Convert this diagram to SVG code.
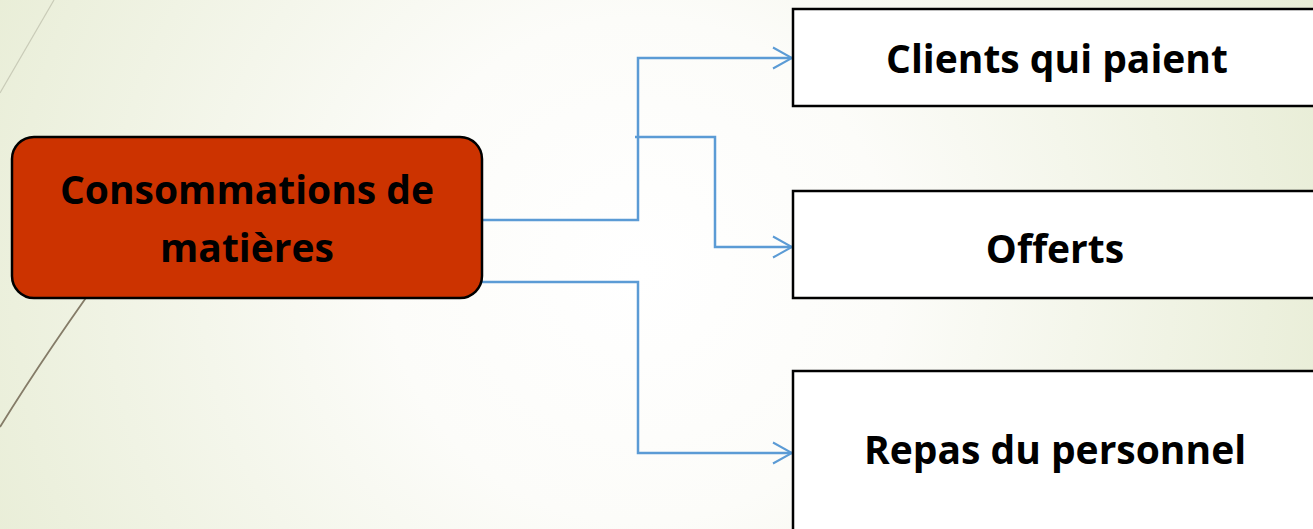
<svg xmlns="http://www.w3.org/2000/svg" width="1313" height="529" viewBox="0 0 1313 529">
<defs>
<radialGradient id="bg" cx="640" cy="270" r="720" gradientUnits="userSpaceOnUse">
<stop offset="0" stop-color="#FFFFFF"/>
<stop offset="0.35" stop-color="#FCFCF9"/>
<stop offset="1" stop-color="#E8EDD6"/>
</radialGradient>
<marker id="arr" markerWidth="22" markerHeight="24" refX="20" refY="12" orient="auto" markerUnits="userSpaceOnUse">
<path d="M1,1.5 L20,12 L1,22.5" fill="none" stroke="#5B9BD5" stroke-width="2"/>
</marker>
<style>
.lbl{font-family:"Open Sans","Liberation Sans",sans-serif;font-weight:bold;fill:#000;text-anchor:middle}
.box{fill:#FFFFFF;stroke:#000;stroke-width:2.5}
.con{fill:none;stroke:#5B9BD5;stroke-width:2.5}
</style>
</defs>
<rect width="1313" height="529" fill="url(#bg)"/>
<path d="M0,93 Q28,45 54,0" fill="none" stroke="#C9CBB8" stroke-width="1.2"/>
<path d="M0,427 Q60,330 150,210" fill="none" stroke="#857C68" stroke-width="1.8"/>
<g id="connectors">
<path class="con" d="M482,220 H638 V58 H792" marker-end="url(#arr)"/>
<path class="con" d="M635,137 H715 V247 H792" marker-end="url(#arr)"/>
<path class="con" d="M482,282 H638 V453 H792" marker-end="url(#arr)"/>
</g>
<g id="node-main">
<rect x="12" y="137" width="470" height="161" rx="22" ry="22" fill="#CC3300" stroke="#000" stroke-width="2.5"/>
<text class="lbl" x="247" y="204" font-size="39">Consommations de</text>
<text class="lbl" x="247" y="262" font-size="39">matières</text>
</g>
<g id="node-clients">
<rect class="box" x="793" y="9" width="530" height="97"/>
<text class="lbl" x="1057" y="73" font-size="39">Clients qui paient</text>
</g>
<g id="node-offerts">
<rect class="box" x="793" y="191" width="530" height="107"/>
<text class="lbl" x="1055" y="263" font-size="39">Offerts</text>
</g>
<g id="node-repas">
<rect class="box" x="793" y="371" width="530" height="170"/>
<text class="lbl" x="1055" y="464" font-size="39">Repas du personnel</text>
</g>
</svg>
